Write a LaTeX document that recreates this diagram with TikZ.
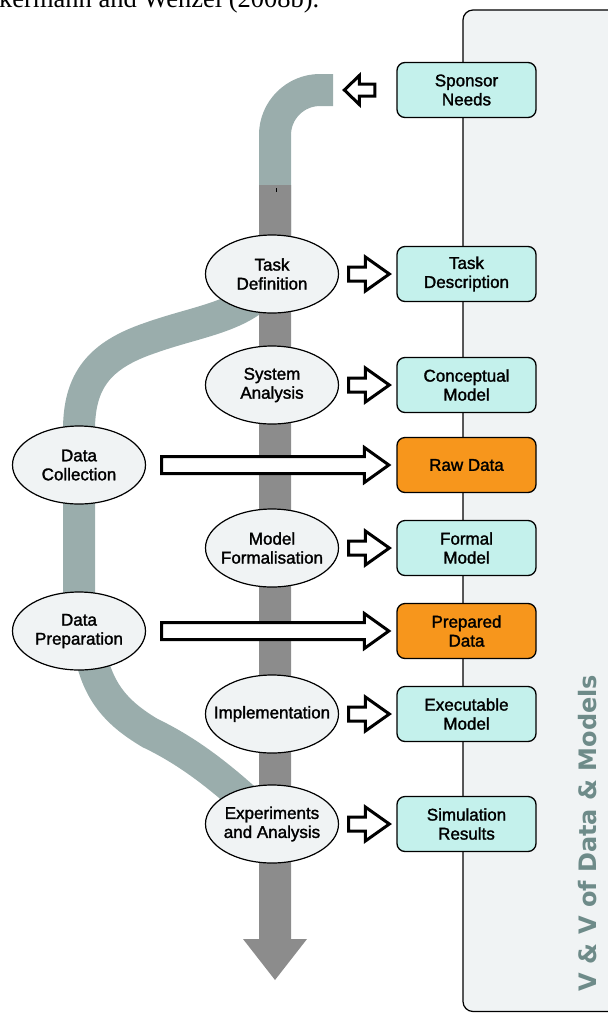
\documentclass[tikz,border=0pt]{standalone}
\usepackage{fontspec}
\setmainfont{Liberation Sans}[FakeBold=1.6]
\newfontfamily\capfont{Liberation Serif}
\newfontfamily\vvfont{DejaVu Sans}
\usetikzlibrary{calc,shapes.geometric}
\definecolor{cyanbox}{HTML}{C4F1EC}
\definecolor{orangebox}{HTML}{F7961C}
\definecolor{paleg}{HTML}{F0F3F4}
\definecolor{bandc}{HTML}{9AADAC}
\definecolor{darkbar}{HTML}{8C8C8C}
\definecolor{vtext}{HTML}{6E8B89}
\tikzset{
  lbl/.style={font=\fontsize{17}{19}\selectfont, align=center, text=black},
  proc/.style={lbl, ellipse, draw=black, line width=1.2pt, fill=paleg,
    minimum width=133pt, minimum height=78pt, inner ysep=0pt, inner xsep=-12pt},
  prod/.style={lbl, rectangle, rounded corners=8pt, draw=black, line width=1.3pt,
    fill=cyanbox, minimum width=139pt, minimum height=55pt, inner sep=0pt},
  dataprod/.style={prod, fill=orangebox},
  blk/.style={draw=black, fill=white, line width=3pt, line join=miter},
  band/.style={draw=bandc, line width=32pt, line cap=butt}
}
% right-pointing block arrow: start point, tip point, shaft half, head half, head length
\newcommand\rblk[5]{%
  \draw[blk] let \p1=(#1), \p2=(#2) in
    (\x1,\y1+#3pt) -- (\x2-#5pt,\y1+#3pt) -- (\x2-#5pt,\y1+#4pt) -- (\x2,\y1)
    -- (\x2-#5pt,\y1-#4pt) -- (\x2-#5pt,\y1-#3pt) -- (\x1,\y1-#3pt) -- cycle;}
\begin{document}
\begin{tikzpicture}[x=1pt,y=-1pt]
\useasboundingbox (0,0) rectangle (608,1013);
\begin{scope}
\clip (0,0) rectangle (608,1013);
% caption fragment
\node[anchor=base west, inner sep=0pt, font=\capfont\fontsize{26.5}{28}\selectfont] (cap) at (-1,7.5) {kermann and Wenzel (2008b).};
% right panel
\draw[fill=paleg, line width=1.2pt, rounded corners=10pt] (463,10) rectangle (640,1011.5);
\node[rotate=90, text=vtext, font=\vvfont\bfseries\fontsize{24}{26}\selectfont, inner sep=0pt] (vv) at (588,833) {V \& V of Data \& Models};
% light bands
\draw[band] (333,90) -- (320,90) arc[start angle=270, end angle=180, radius=45] -- (275,250)
  .. controls (275,270) and (270,285) .. (262,292)
  .. controls (235,318) and (195,322) .. (150,338)
  .. controls (100,355) and (79,380) .. (79,430) -- (79,640);
\draw[band] (88,640) .. controls (95,690) and (115,712) .. (150,733)
  .. controls (190,752) and (225,780) .. (262,815);
% main dark arrow
\fill[darkbar] (259,185) -- (291,185) -- (291,939) -- (307,939) -- (275,980) -- (243,939) -- (259,939) -- cycle;
\draw[black, line width=0.8pt] (276.8,188) -- (276.8,192);
% process ellipses
\node[proc] (td) at (272,274) {Task\\Definition};
\node[proc] (sa) at (272,385) {System\\Analysis};
\node[proc] (mf) at (272,548) {Model\\Formalisation};
\node[proc] (im) at (272,714) {Implementation};
\node[proc] (ea) at (272,824) {Experiments\\and Analysis};
\node[proc] (dc) at (79,465) {Data\\Collection};
\node[proc] (dp) at (79,631) {Data\\Preparation};
% products
\node[prod] (sn) at (466.5,90) {Sponsor\\Needs};
\node[prod] (tdesc) at (466.5,274) {Task\\Description};
\node[prod] (cm) at (466.5,385) {Conceptual\\Model};
\node[dataprod] (rd) at (466.5,465) {Raw Data};
\node[prod] (fm) at (466.5,548) {Formal\\Model};
\node[dataprod] (pd) at (466.5,631) {Prepared\\Data};
\node[prod] (em) at (466.5,714) {Executable\\Model};
\node[prod] (sr) at (466.5,824) {Simulation\\Results};
% block arrows
\rblk{$(td.east)+(9.5,0)$}{$(tdesc.west)+(-7,0)$}{7}{17}{24}
\rblk{$(sa.east)+(9.5,0)$}{$(cm.west)+(-7,0)$}{7}{17}{24}
\rblk{$(mf.east)+(9.5,0)$}{$(fm.west)+(-7,0)$}{7}{17}{24}
\rblk{$(im.east)+(9.5,0)$}{$(em.west)+(-7,0)$}{7}{17}{24}
\rblk{$(ea.east)+(9.5,0)$}{$(sr.west)+(-7,0)$}{7}{17}{24}
\rblk{$(dc.east)+(15.5,0)$}{$(rd.west)+(-7.5,0)$}{8.5}{17.5}{24.5}
\rblk{$(dp.east)+(15.5,0)$}{$(pd.west)+(-7.5,0)$}{8.5}{17.5}{24.5}
% sponsor needs arrow (pointing left)
\draw[blk] let \p1=($(sn.west)+(-21.5,0)$), \p2=($(sn.west)+(-52,0)$) in
  (\x1,\y1+6pt) -- (\x2+15pt,\y1+6pt) -- (\x2+15pt,\y1+14.5pt) -- (\x2,\y1)
  -- (\x2+15pt,\y1-14.5pt) -- (\x2+15pt,\y1-6pt) -- (\x1,\y1-6pt) -- cycle;
\end{scope}
\end{tikzpicture}
\end{document}
